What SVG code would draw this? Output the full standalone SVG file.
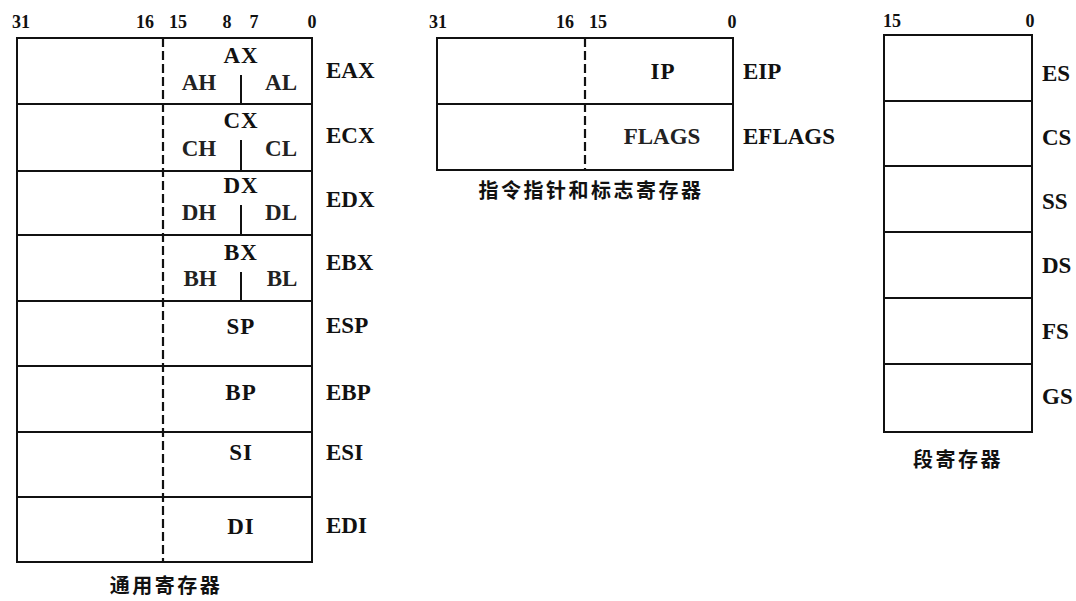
<svg xmlns="http://www.w3.org/2000/svg" width="1076" height="601" viewBox="0 0 1076 601">
<style>
.box{fill:none;stroke:#111;stroke-width:2}
.ln{stroke:#111;stroke-width:2;fill:none}
.dash{stroke:#111;stroke-width:2.2;stroke-dasharray:9 4;fill:none}
.num{font-family:"Liberation Serif",serif;font-size:18px;font-weight:bold;fill:#111;text-anchor:middle}
.lb{font-family:"Liberation Serif",serif;font-size:23px;font-weight:bold;fill:#111}
.in{font-family:"Liberation Serif",serif;font-size:23px;font-weight:bold;fill:#111;text-anchor:middle;letter-spacing:1px}
.hl{font-family:"Liberation Serif",serif;font-size:23px;font-weight:bold;fill:#222;text-anchor:middle}
.cap{font-family:"Liberation Serif","Noto Sans CJK SC",serif;font-size:20px;font-weight:bold;fill:#111;text-anchor:middle;letter-spacing:2.5px}
</style>
<rect width="1076" height="601" fill="#fff"/>

<g id="general-registers">
<text class="num" x="21" y="28">31</text>
<text class="num" x="145" y="28">16</text>
<text class="num" x="178" y="28">15</text>
<text class="num" x="227" y="28">8</text>
<text class="num" x="254" y="28">7</text>
<text class="num" x="312" y="28">0</text>
<rect class="box" x="17" y="38" width="295" height="524"/>
<path class="ln" d="M17 104H312M17 171H312M17 235H312M17 301H312M17 366H312M17 432H312M17 497H312"/>
<path class="dash" d="M163 38V562"/>
<path class="ln" d="M241 75V104M241 140V171M241 205V235M241 272V301"/>
<text class="in" x="241" y="63">AX</text>
<text class="hl" x="199" y="90">AH</text>
<text class="hl" x="281" y="90">AL</text>
<text class="in" x="241" y="128">CX</text>
<text class="hl" x="199" y="156">CH</text>
<text class="hl" x="281" y="156">CL</text>
<text class="in" x="241" y="193">DX</text>
<text class="hl" x="199" y="220">DH</text>
<text class="hl" x="281" y="220">DL</text>
<text class="in" x="241" y="260">BX</text>
<text class="hl" x="200" y="286">BH</text>
<text class="hl" x="282" y="286">BL</text>
<text class="in" x="241" y="334">SP</text>
<text class="in" x="241" y="400">BP</text>
<text class="in" x="241" y="460">SI</text>
<text class="in" x="241" y="534">DI</text>
<text class="lb" x="326" y="78">EAX</text>
<text class="lb" x="326" y="143">ECX</text>
<text class="lb" x="326" y="207">EDX</text>
<text class="lb" x="326" y="270">EBX</text>
<text class="lb" x="326" y="333">ESP</text>
<text class="lb" x="326" y="400">EBP</text>
<text class="lb" x="326" y="460">ESI</text>
<text class="lb" x="326" y="533">EDI</text>
<text class="cap" x="166" y="593">通用寄存器</text>
</g>

<g id="ip-flags-registers">
<text class="num" x="438" y="28">31</text>
<text class="num" x="565" y="28">16</text>
<text class="num" x="598" y="28">15</text>
<text class="num" x="732" y="28">0</text>
<rect class="box" x="437" y="38" width="296" height="132"/>
<path class="ln" d="M437 104H733"/>
<path class="dash" d="M585 38V170"/>
<text class="in" x="663" y="79">IP</text>
<text class="hl" x="662" y="144">FLAGS</text>
<text class="lb" x="743" y="79">EIP</text>
<text class="lb" x="743" y="144">EFLAGS</text>
<text class="cap" x="591" y="198">指令指针和标志寄存器</text>
</g>

<g id="segment-registers">
<text class="num" x="892" y="27">15</text>
<text class="num" x="1030" y="27">0</text>
<rect class="box" x="884" y="35" width="148" height="397"/>
<path class="ln" d="M884 101H1032M884 166H1032M884 232H1032M884 298H1032M884 364H1032"/>
<text class="lb" x="1042" y="81">ES</text>
<text class="lb" x="1042" y="145">CS</text>
<text class="lb" x="1042" y="209">SS</text>
<text class="lb" x="1042" y="273">DS</text>
<text class="lb" x="1042" y="339">FS</text>
<text class="lb" x="1042" y="404">GS</text>
<text class="cap" x="958" y="467">段寄存器</text>
</g>
</svg>
